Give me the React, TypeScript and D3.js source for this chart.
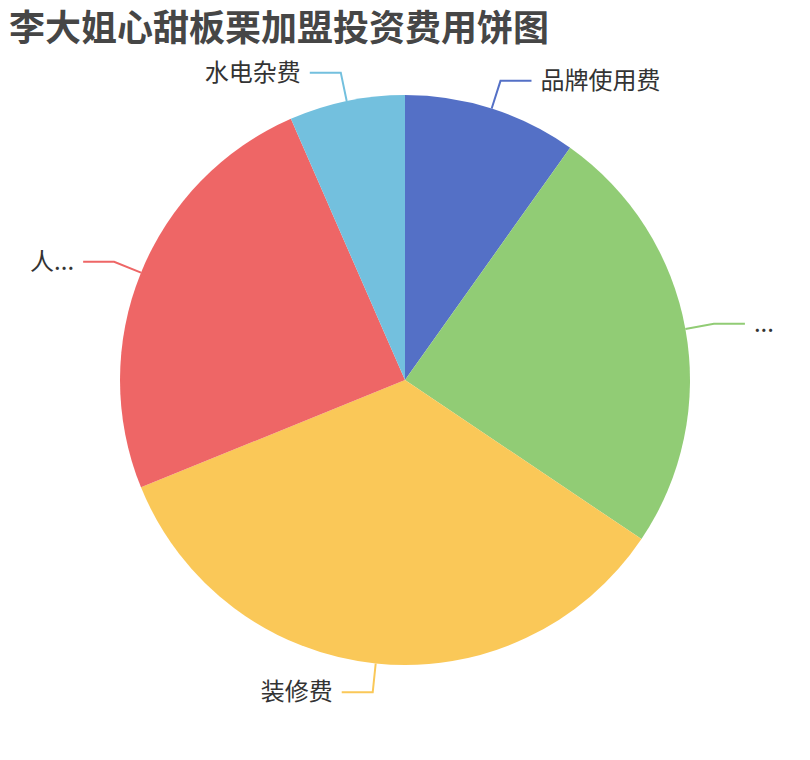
import React from 'react';
import * as d3 from 'd3';

const title = '李大姐心甜板栗加盟投资费用饼图';
const categories = ['品牌使用费', '加盟费', '装修费', '人员工资', '水电杂费'];
// labels as they appear on the chart (long ones are cut off by the frame)
const labels = ['品牌使用费', '...', '装修费', '人...', '水电杂费'];
const values = [3, 7.5, 10.5, 7.5, 2];
const colors = ['#5470c6', '#91cc75', '#fac858', '#ee6666', '#73c0de'];

const width = 810;
const height = 760;
const cx = 405;
const cy = 380;
const radius = 285;

export default function App() {
  const rows = categories.map((c, i) => ({ name: c, label: labels[i], value: values[i], color: colors[i] }));

  const pie = d3.pie<typeof rows[number]>()
    .value(d => d.value)
    .sort(null);

  const arc = d3.arc<d3.PieArcDatum<typeof rows[number]>>()
    .innerRadius(0)
    .outerRadius(radius);

  const edge = d3.arc<d3.PieArcDatum<typeof rows[number]>>()
    .innerRadius(radius)
    .outerRadius(radius);

  const bend = d3.arc<d3.PieArcDatum<typeof rows[number]>>()
    .innerRadius(radius + 29)
    .outerRadius(radius + 29);

  const arcs = pie(rows);

  return (
    <svg width={width} height={height} style={{ display: 'block', marginLeft: -8, marginTop: -8 }}>
      <rect width={width} height={height} fill="#fff" />
      <text x={9} y={41} fontFamily="'Noto Sans CJK SC', sans-serif" fontWeight="bold" fontSize={36} fill="#464646">
        {title}
      </text>
      <g transform={`translate(${cx},${cy})`}>
        {arcs.map(a => (
          <path key={a.data.name} d={arc(a) as string} fill={a.data.color} />
        ))}
        {arcs.map(a => {
          const [x0, y0] = edge.centroid(a);
          const [x1, y1] = bend.centroid(a);
          const right = x1 >= 0;
          const x2 = x1 + (right ? 31 : -31);
          return (
            <g key={a.data.name + '-label'}>
              <polyline
                points={`${x0},${y0} ${x1},${y1} ${x2},${y1}`}
                fill="none"
                stroke={a.data.color}
                strokeWidth={2}
              />
              <text
                x={x2 + (right ? 9 : -9)}
                y={y1}
                dy="0.33em"
                textAnchor={right ? 'start' : 'end'}
                fontFamily="'Noto Sans CJK SC', sans-serif"
                fontSize={24}
                fill="#333"
              >
                {a.data.label}
              </text>
            </g>
          );
        })}
      </g>
    </svg>
  );
}
